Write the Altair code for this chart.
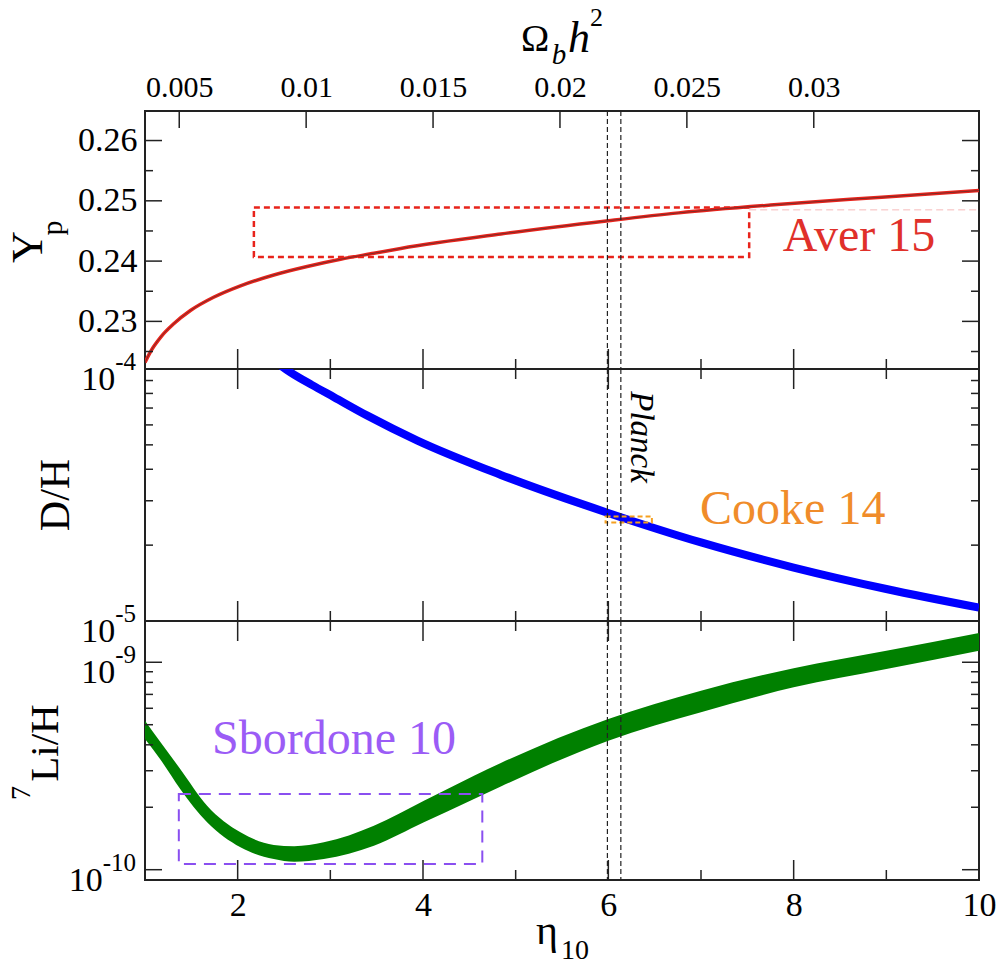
import altair as alt
import pandas as pd

# ---------------- data ----------------
# helium-4 mass fraction Y_p versus eta_10
yp_eta = [1.0, 1.06, 1.17, 1.31, 1.49, 1.74, 2.03, 2.39, 2.75, 3.11, 3.47, 3.76,
          4.84, 6.0, 6.76, 7.75, 8.95, 10.0]
yp_val = [0.2232, 0.2250, 0.2274, 0.2296, 0.2318, 0.2340, 0.2359, 0.2377, 0.2391,
          0.2403, 0.2413, 0.2421, 0.2445, 0.2467, 0.2480, 0.2493, 0.2506, 0.2517]

# deuterium D/H versus eta_10
dh_eta = [2.45, 2.57, 2.8, 3.04, 3.40, 3.94, 4.84, 5.99, 7.0, 8.0, 9.0, 10.0]
dh_val = [1.04e-4, 9.70e-5, 8.65e-5, 7.73e-5, 6.53e-5, 5.20e-5, 3.80e-5, 2.69e-5,
          2.05e-5, 1.63e-5, 1.34e-5, 1.13e-5]

# lithium-7 band (upper / lower edge) versus eta_10
li_eta = [1.0, 1.17, 1.38, 1.67, 2.03, 2.39, 2.61, 2.93, 3.47, 4.01, 4.55, 4.84,
          6.0, 7.0, 8.0, 9.0, 10.0]
li_hi = [5.23e-10, 4.105e-10, 3.06e-10, 2.035e-10, 1.515e-10, 1.316e-10, 1.297e-10,
         1.355e-10, 1.630e-10, 2.151e-10, 2.84e-10, 3.27e-10, 5.33e-10, 7.29e-10,
         9.36e-10, 1.137e-9, 1.385e-9]
li_lo = [4.27e-10, 3.38e-10, 2.45e-10, 1.692e-10, 1.282e-10, 1.126e-10, 1.093e-10,
         1.126e-10, 1.305e-10, 1.692e-10, 2.19e-10, 2.52e-10, 4.19e-10, 5.74e-10,
         7.57e-10, 9.28e-10, 1.137e-9]

# observational boxes
aver_eta = [2.175, 7.52]
aver_y = [0.2407, 0.2489]
aver_ext_eta = [7.52, 10.0]
aver_ext_y = [0.2485]
cooke_eta = [5.97, 6.47]
cooke_y = [2.46e-5, 2.60e-5]
sbordone_eta = [1.365, 4.64]
sbordone_y = [1.065e-10, 2.32e-10]
planck_eta = [5.99, 6.135]

# annotation anchors (data coordinates)
aver_label = {"eta": [8.705], "y": [0.2417], "t": ["Aver 15"]}
cooke_label = {"eta": [7.99], "y": [2.43e-5], "t": ["Cooke 14"]}
sbordone_label = {"eta": [3.04], "y": [3.61e-10], "t": ["Sbordone 10"]}
planck_label = {"eta": [6.35], "y": [5.37e-5], "t": ["Planck"]}

# axes
x_major = [2, 4, 6, 8]
x_minor = [3, 5, 7, 9]
x_labels = [2, 4, 6, 8, 10]
omega_ticks = [0.005, 0.01, 0.015, 0.02, 0.025, 0.03]
eta_per_omega = 273.9
yp_major = [0.23, 0.24, 0.25, 0.26]
yp_minor = [0.225, 0.235, 0.245, 0.255]
dh_labels = [(1e-4, "-4"), (1e-5, "-5")]
dh_minor = [2e-5, 3e-5, 4e-5, 5e-5, 6e-5, 7e-5, 8e-5, 9e-5]
li_labels = [(1e-9, "-9"), (1e-10, "-10")]
li_major = [1e-10, 1e-9]
li_minor = [2e-10, 3e-10, 4e-10, 5e-10, 6e-10, 7e-10, 8e-10, 9e-10]

# ---------------- style ----------------
W, H1, H2, H3 = 834, 258, 252, 259
FONT = "Liberation Serif"
INK = "#222222"
RED = "#e8231b"
BLUE = "#0000ff"
GREEN = "#008000"
PURPLE = "#8a4ff0"
ORANGE = "#f08c2a"
LABEL_SIZE = 34
EXP_SIZE = 25
NOTE_SIZE = 48

eta_scale = alt.Scale(domain=[1, 10], nice=False, zero=False)
one = pd.DataFrame({"a": [0]})


def tick_layers(Y, ymaj, ymin, h, Xenc, top_x=True):
    out = []
    for vals, ln in ((ymaj, 17), (ymin, 8)):
        if not vals:
            continue
        d = pd.DataFrame({"y": vals})
        out.append(alt.Chart(d).mark_rule(color=INK, strokeWidth=1.5).encode(
            y=Y, x=alt.value(0), x2=alt.value(ln)))
        out.append(alt.Chart(d).mark_rule(color=INK, strokeWidth=1.5).encode(
            y=Y, x=alt.value(W), x2=alt.value(W - ln)))
    for vals, ln in ((x_major, 20), (x_minor, 10)):
        d = pd.DataFrame({"eta": vals})
        out.append(alt.Chart(d).mark_rule(color=INK, strokeWidth=1.5).encode(
            x=Xenc, y=alt.value(h), y2=alt.value(h - ln)))
        if top_x:
            out.append(alt.Chart(d).mark_rule(color=INK, strokeWidth=1.5).encode(
                x=Xenc, y=alt.value(0), y2=alt.value(ln)))
    return out


def log_labels(pairs, Y):
    out = []
    for val, exp in pairs:
        d = pd.DataFrame({"y": [val]})
        exp_w = EXP_SIZE * (0.333 + 0.5 * (len(exp) - 1))
        out.append(alt.Chart(d).mark_text(
            text=exp, font=FONT, fontSize=EXP_SIZE, align="right", baseline="alphabetic",
            dy=1, color="black").encode(y=Y, x=alt.value(-9)))
        out.append(alt.Chart(d).mark_text(
            text="10", font=FONT, fontSize=LABEL_SIZE, align="right", baseline="alphabetic",
            dy=21, color="black").encode(y=Y, x=alt.value(-9 - exp_w)))
    return out


def planck_rules(Xenc):
    return alt.Chart(pd.DataFrame({"eta": planck_eta})).mark_rule(
        color=INK, strokeWidth=1.2, strokeDash=[5, 3]).encode(x=Xenc)


def label(text, x, y, size, angle=0, align="center", baseline="middle", style="normal",
          color="black"):
    return alt.Chart(one).mark_text(
        text=text, font=FONT, fontSize=size, angle=angle, align=align,
        baseline=baseline, fontStyle=style, color=color).encode(
        x=alt.value(x), y=alt.value(y))


def box(etas, ys, Xenc, Y, color, width, dash):
    d = pd.DataFrame({"eta": [etas[0]], "eta2": [etas[1]], "y": [ys[0]], "y2": [ys[1]]})
    return alt.Chart(d).mark_rect(fillOpacity=0, stroke=color, strokeWidth=width,
                                  strokeDash=dash).encode(
        x=Xenc, x2="eta2:Q", y=Y, y2="y2:Q")


# ---------------- top panel: Y_p ----------------
X1 = alt.X("eta:Q", scale=eta_scale, axis=None)
Y1 = alt.Y("y:Q", scale=alt.Scale(domain=[0.2221, 0.2649], nice=False, zero=False),
           axis=alt.Axis(values=yp_major, format=".2f", ticks=False, domain=False,
                         grid=False, title=None, labelFont=FONT,
                         labelFontSize=LABEL_SIZE, labelColor="black", labelPadding=8))
yp_df = pd.DataFrame({"eta": yp_eta, "y": yp_val})
top_main = alt.layer(
    box(aver_eta, aver_y, X1, Y1, RED, 2.5, [6, 4]),
    alt.Chart(pd.DataFrame({"eta": [aver_ext_eta[0]], "eta2": [aver_ext_eta[1]],
                            "y": aver_ext_y})).mark_rule(
        color="#f6b9b9", strokeWidth=1, strokeDash=[7, 4]).encode(x=X1, x2="eta2:Q", y=Y1),
    alt.Chart(yp_df).mark_line(color=RED, strokeWidth=3.5, interpolate="monotone",
                               clip=True).encode(x=X1, y=Y1),
    alt.Chart(yp_df).mark_line(color="#333333", strokeWidth=0.6, interpolate="monotone",
                               clip=True).encode(x=X1, y=Y1),
    planck_rules(X1),
    alt.Chart(pd.DataFrame(aver_label)).mark_text(
        font=FONT, fontSize=NOTE_SIZE, color="#e0302a", baseline="alphabetic").encode(
        x=X1, y=Y1, text="t:N"),
    *tick_layers(Y1, yp_major, yp_minor, H1, X1, top_x=False),
    label("Y", -116, 136, 44, angle=270),
    label("p", -92, 117, 30, angle=270),
    label("\u03a9", 390, -60, 38, baseline="alphabetic"),
    label("b", 414, -47, 29, style="italic", baseline="alphabetic"),
    label("h", 423, -59, 44, style="italic", align="left", baseline="alphabetic"),
    label("2", 445, -85, 26, align="left", baseline="alphabetic"),
)
XO = alt.X("om:Q",
           scale=alt.Scale(domain=[1 / eta_per_omega, 10 / eta_per_omega], nice=False,
                           zero=False),
           axis=alt.Axis(orient="top", values=omega_ticks, format="~g", ticks=False,
                         domain=False, grid=False, title=None, labelFont=FONT,
                         labelFontSize=30, labelColor="black", labelPadding=9,
                         labelFlush=False))
omega_layer = alt.Chart(pd.DataFrame({"om": omega_ticks})).mark_rule(
    color=INK, strokeWidth=1.5).encode(x=XO, y=alt.value(0), y2=alt.value(17))
top = alt.layer(top_main, omega_layer).resolve_scale(x="independent").properties(
    width=W, height=H1)

# ---------------- middle panel: D/H ----------------
X2 = alt.X("eta:Q", scale=eta_scale, axis=None)
Y2 = alt.Y("y:Q", scale=alt.Scale(type="log", domain=[1e-5, 1e-4], nice=False), axis=None)
mid = alt.layer(
    alt.Chart(pd.DataFrame({"eta": dh_eta, "y": dh_val})).mark_line(
        color=BLUE, strokeWidth=8, interpolate="monotone", clip=True).encode(x=X2, y=Y2),
    box(cooke_eta, cooke_y, X2, Y2, "#f5a020", 2, [5, 3]),
    planck_rules(X2),
    alt.Chart(pd.DataFrame(cooke_label)).mark_text(
        font=FONT, fontSize=NOTE_SIZE, color=ORANGE, baseline="alphabetic").encode(
        x=X2, y=Y2, text="t:N"),
    alt.Chart(pd.DataFrame(planck_label)).mark_text(
        font=FONT, fontSize=33, fontStyle="italic", angle=90, color="black").encode(
        x=X2, y=Y2, text="t:N"),
    *tick_layers(Y2, [], dh_minor, H2, X2),
    *log_labels(dh_labels, Y2),
    label("D/H", -89, 126, 42, angle=270),
).properties(width=W, height=H2)

# ---------------- bottom panel: 7Li/H ----------------
X3 = alt.X("eta:Q", scale=eta_scale,
           axis=alt.Axis(values=x_labels, ticks=False, domain=False, grid=False,
                         title=None, labelFont=FONT, labelFontSize=LABEL_SIZE,
                         labelColor="black", labelPadding=8, labelFlush=False))
Y3 = alt.Y("y:Q", scale=alt.Scale(type="log", domain=[8.92e-11, 1.581e-9], nice=False),
           axis=None)
bot = alt.layer(
    alt.Chart(pd.DataFrame({"eta": li_eta, "y": li_lo, "y2": li_hi})).mark_area(
        color=GREEN, opacity=1, interpolate="monotone", clip=True).encode(
        x=X3, y=Y3, y2="y2:Q"),
    box(sbordone_eta, sbordone_y, X3, Y3, PURPLE, 2, [12, 8]),
    planck_rules(X3),
    alt.Chart(pd.DataFrame(sbordone_label)).mark_text(
        font=FONT, fontSize=NOTE_SIZE, color="#9b5cf6", baseline="alphabetic").encode(
        x=X3, y=Y3, text="t:N"),
    *tick_layers(Y3, li_major, li_minor, H3, X3),
    *log_labels(li_labels, Y3),
    label("Li/H", -99, 122, 41, angle=270),
    label("7", -123, 172, 28, angle=270),
    label("\u03b7", 402, 323, 42, baseline="alphabetic"),
    label("10", 416, 338, 28, align="left", baseline="alphabetic"),
).properties(width=W, height=H3)

chart = alt.vconcat(top, mid, bot, spacing=0, bounds="flush").resolve_scale(
    x="independent", y="independent").properties(
    padding={"left": 6, "top": 4, "right": 0, "bottom": 0}
).configure(background="white").configure_view(stroke=INK, strokeWidth=2)

chart.save("out.html", embed_options={"renderer": "svg", "actions": False})
